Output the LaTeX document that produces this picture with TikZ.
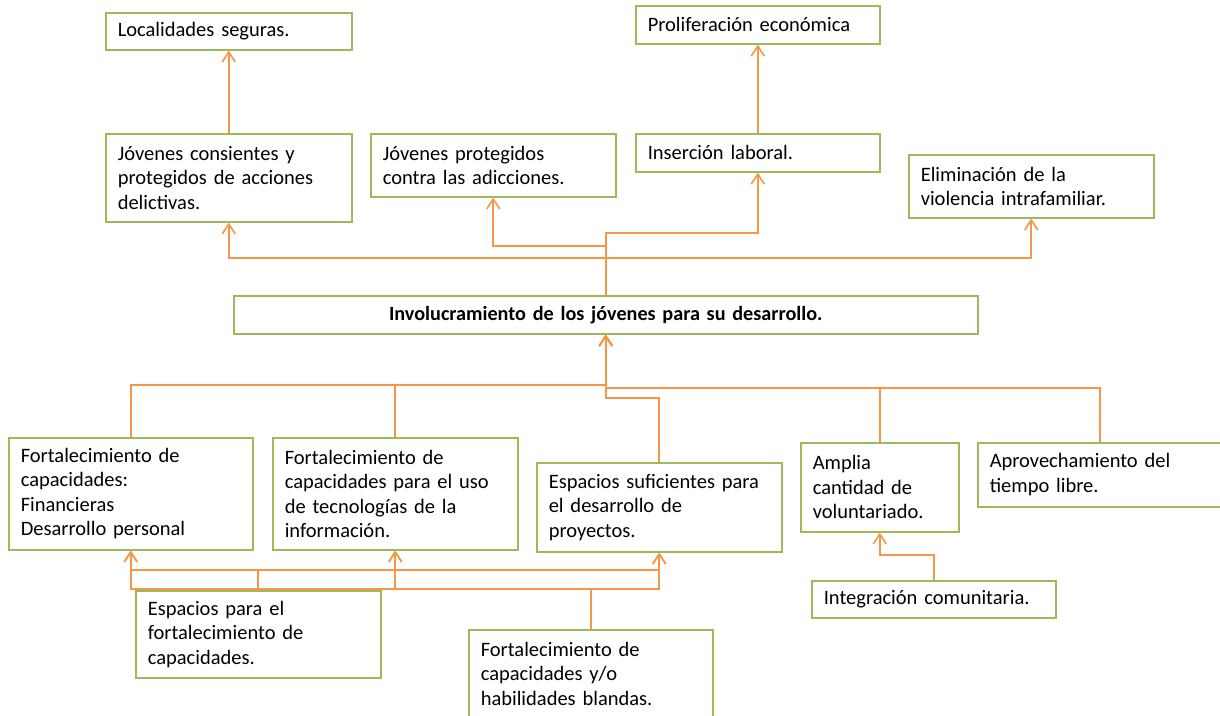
\documentclass[tikz,border=0pt]{standalone}
\usepackage{fontspec}
\setmainfont{Carlito}[WordSpace=0.55]
\usetikzlibrary{arrows.meta}
\definecolor{boxgreen}{HTML}{9BBB59}
\definecolor{lineorange}{HTML}{F79646}

\begin{document}
\begin{tikzpicture}[x=1pt,y=-1pt]
	\tikzset{
	  BoxStyle/.style = { draw=boxgreen, line width=1.5pt, anchor=north west,
	                      align=left, inner xsep=12pt, inner ysep=2pt,
	                      font = \fontsize{20.5}{24.5}\selectfont },
	  TitleStyle/.style = { BoxStyle, align=center,
	                        font = \fontsize{20.2}{22}\selectfont\bfseries },
	  EdgeStyle/.style = { draw=lineorange, line width=1.6pt,
	                       -{Straight Barb[length=10pt,width=13pt]} } }
	\useasboundingbox (0,0) rectangle (1220,715);
	\node[BoxStyle, minimum width=246, minimum height=37, text width=222] (loc) at (105,12) {Localidades seguras.};
	\node[BoxStyle, minimum width=246, minimum height=88, text width=222] (cons) at (105,133) {Jóvenes consientes y\\protegidos de acciones\\delictivas.};
	\node[BoxStyle, minimum width=245, minimum height=63, text width=221] (prot) at (370,133) {Jóvenes protegidos\\contra las adicciones.};
	\node[BoxStyle, minimum width=244, minimum height=38, text width=220] (prol) at (635,5) {Proliferación económica};
	\node[BoxStyle, minimum width=244, minimum height=38, text width=220] (ins) at (635,133) {Inserción laboral.};
	\node[BoxStyle, minimum width=245, minimum height=63, text width=221] (elim) at (908,154) {Eliminación de la\\violencia intrafamiliar.};
	\node[TitleStyle, minimum width=744, minimum height=38, text width=720] (central) at (233,295) {Involucramiento de los jóvenes para su desarrollo.};
	\node[BoxStyle, minimum width=244, minimum height=112, text width=220] (fin) at (8,437) {Fortalecimiento de\\capacidades:\\Financieras\\Desarrollo personal};
	\node[BoxStyle, minimum width=245, minimum height=112, text width=221] (tec) at (272,437) {Fortalecimiento de\\capacidades para el uso\\de tecnologías de la\\información.};
	\node[BoxStyle, minimum width=245, minimum height=89, text width=221] (esp) at (536,462) {Espacios suficientes para\\el desarrollo de\\proyectos.};
	\node[BoxStyle, minimum width=158, minimum height=89, text width=134] (amp) at (800,442) {Amplia\\cantidad de\\voluntariado.};
	\node[BoxStyle, minimum width=245, minimum height=64, text width=221] (apr) at (977,442) {Aprovechamiento del\\tiempo libre.};
	\node[BoxStyle, minimum width=244, minimum height=37, text width=220] (integ) at (811,580) {Integración comunitaria.};
	\node[BoxStyle, minimum width=245, minimum height=87, text width=221] (espf) at (135,590) {Espacios para el\\fortalecimiento de\\capacidades.};
	\node[BoxStyle, minimum width=244, minimum height=88, text width=220] (hab) at (468,629) {Fortalecimiento de\\capacidades y/o\\habilidades blandas.};
	\draw[EdgeStyle] (cons.north) -- (loc.south);
	\draw[EdgeStyle] (ins.north) -- (prol.south);
	\draw[EdgeStyle] (central.north) -- ++(0,-62) -| (ins.south);
	\draw[EdgeStyle] (central.north) -- ++(0,-49) -| (prot.south);
	\draw[EdgeStyle] (central.north) -- ++(0,-37) -| (cons.south);
	\draw[EdgeStyle] (central.north) -- ++(0,-37) -| (elim.south);
	\draw[EdgeStyle] (fin.north) -- ++(0,-52) -| (central.south);
	\draw[EdgeStyle] (tec.north) -- ++(0,-52) -| (central.south);
	\draw[EdgeStyle] (esp.north) -- ++(0,-64) -| (central.south);
	\draw[EdgeStyle] (amp.north) -- ++(0,-54) -| (central.south);
	\draw[EdgeStyle] (apr.north) -- ++(0,-54) -| (central.south);
	\draw[EdgeStyle] (integ.north) -- ++(0,-25) -| (amp.south);
	\draw[EdgeStyle] (espf.north) -- ++(0,-20) -| (fin.south);
	\draw[EdgeStyle] (espf.north) -- ++(0,-20) -| (tec.south);
	\draw[EdgeStyle] (espf.north) -- ++(0,-20) -| (esp.south);
	\draw[EdgeStyle] (hab.north) -- ++(0,-40) -| (fin.south);
	\draw[EdgeStyle] (hab.north) -- ++(0,-40) -| (tec.south);
	\draw[EdgeStyle] (hab.north) -- ++(0,-40) -| (esp.south);
\end{tikzpicture}
\end{document}
